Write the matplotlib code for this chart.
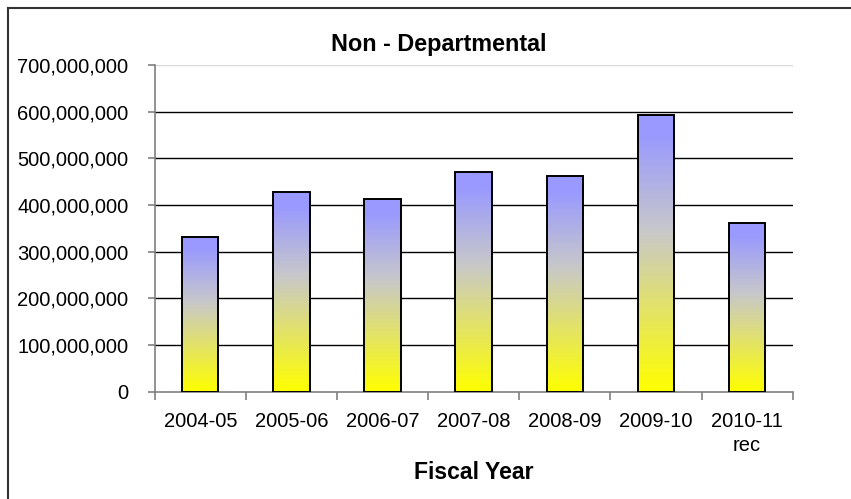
import numpy as np
import matplotlib
matplotlib.use("Agg")
import matplotlib.pyplot as plt
from matplotlib.colors import LinearSegmentedColormap
from matplotlib.ticker import FuncFormatter, FixedLocator
from matplotlib.lines import Line2D

# Data
fiscal_years = ["2004-05", "2005-06", "2006-07", "2007-08", "2008-09", "2009-10", "2010-11\nrec"]
amounts = [331_000_000, 428_000_000, 413_000_000, 470_000_000, 462_000_000, 592_000_000, 362_000_000]
y_ticks = [0, 100_000_000, 200_000_000, 300_000_000, 400_000_000, 500_000_000, 600_000_000, 700_000_000]

plt.rcParams["font.family"] = ["Liberation Sans", "DejaVu Sans"]

fig = plt.figure(figsize=(8.51, 4.99), dpi=100)
ax = fig.add_axes([154.7 / 851, 1 - 391.7 / 499, (792.7 - 154.7) / 851, (391.7 - 65) / 499])

# Vertical yellow -> grey -> periwinkle fill, stretched over each bar
fill_cmap = LinearSegmentedColormap.from_list(
    "bar_fill",
    [(0.0, (1.0, 1.0, 0.0)),
     (0.58, (200 / 255, 200 / 255, 202 / 255)),
     (0.93, (153 / 255, 153 / 255, 1.0)),
     (1.0, (153 / 255, 153 / 255, 1.0))],
)
grad = np.linspace(0, 1, 256).reshape(-1, 1)

x = np.arange(len(fiscal_years))
width = 0.4
bars = ax.bar(x, amounts, width=width, facecolor="none", edgecolor="black", linewidth=1.4, zorder=4)
for rect in bars:
    x0, y0 = rect.get_x(), rect.get_y()
    w, h = rect.get_width(), rect.get_height()
    im = ax.imshow(grad, cmap=fill_cmap, origin="lower", aspect="auto",
                   extent=(x0, x0 + w, y0, y0 + h), zorder=3, interpolation="bilinear")
    clip = plt.Rectangle((x0, y0), w, h, transform=ax.transData)
    im.set_clip_path(clip)

ax.set_xlim(-0.5, len(fiscal_years) - 0.5)
ax.set_ylim(0, 700_000_000)

# Gridlines
for v in y_ticks[1:-1]:
    ax.axhline(v, color="black", linewidth=1.0, zorder=1)
ax.axhline(y_ticks[-1], color="#d9d9d9", linewidth=1.0, zorder=1)

for side in ["top", "right"]:
    ax.spines[side].set_visible(False)
ax.spines["left"].set_color("#808080")
ax.spines["bottom"].set_color("#808080")
ax.spines["left"].set_linewidth(1.2)
ax.spines["bottom"].set_linewidth(1.2)

ax.set_yticks(y_ticks)
ax.yaxis.set_major_formatter(FuncFormatter(lambda v, p: f"{int(v):,}"))
ax.tick_params(axis="y", direction="out", length=5, width=1.2, color="#808080",
               labelsize=14.5, pad=14)

ax.set_xticks(x)
ax.set_xticklabels(fiscal_years, linespacing=1.35)
ax.xaxis.set_minor_locator(FixedLocator(np.arange(len(fiscal_years) + 1) - 0.5))
ax.tick_params(axis="x", which="major", length=0, labelsize=14.5, pad=14.5)
ax.tick_params(axis="x", which="minor", direction="out", length=6, width=1.2, color="#808080")

ax.set_xlabel("Fiscal Year", fontsize=16.6, fontweight="bold", labelpad=4)

fig.text(439 / 851, 1 - 45 / 499, "Non - Departmental", ha="center", va="center",
         fontsize=16.8, fontweight="bold")

# Chart frame
fig.add_artist(Line2D([7.5 / 851, 7.5 / 851], [0, 1 - 7.5 / 499], transform=fig.transFigure,
                      color="#333333", linewidth=1.5))
fig.add_artist(Line2D([7.5 / 851, 1], [1 - 7.5 / 499, 1 - 7.5 / 499], transform=fig.transFigure,
                      color="#333333", linewidth=1.5))

fig.savefig("out.png", dpi=100)
